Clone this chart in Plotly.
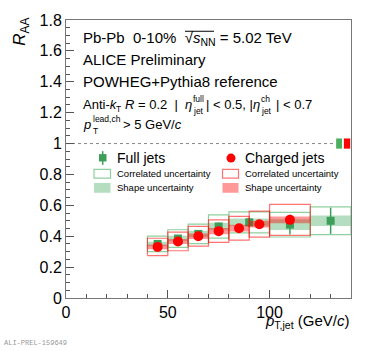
import plotly.graph_objects as go

# full jets (R = 0.2), bins in pT,jet
full_lo = [40, 50, 60, 70, 80, 100, 120]
full_hi = [50, 60, 70, 80, 100, 120, 140]
full_raa = [0.35, 0.385, 0.415, 0.463, 0.49, 0.475, 0.50]
full_stat = [0.012, 0.015, 0.018, 0.025, 0.03, 0.064, 0.085]
full_corr = [0.05, 0.057, 0.063, 0.075, 0.068, 0.08, 0.09]
full_shape = [0.015, 0.018, 0.02, 0.025, 0.025, 0.035, 0.034]

# charged jets
ch_lo = [40, 50, 60, 70, 80, 90, 100]
ch_hi = [50, 60, 70, 80, 90, 100, 120]
ch_raa = [0.331, 0.366, 0.40, 0.433, 0.452, 0.478, 0.506]
ch_stat = [0.008, 0.008, 0.01, 0.01, 0.012, 0.014, 0.025]
ch_corr = [0.056, 0.06, 0.064, 0.073, 0.077, 0.084, 0.10]
ch_shape = [0.015, 0.016, 0.018, 0.02, 0.022, 0.022, 0.022]

# normalisation uncertainties drawn at RAA = 1
norm_full = 0.033
norm_ch = 0.033

GREEN = "#3d9e5a"
GREEN_BAND = "rgba(120,195,140,0.55)"
GREEN_LINE = "#8fd09f"
RED = "#ff0000"
RED_BAND = "rgba(255,0,0,0.4)"
RED_LINE = "rgba(255,0,0,0.55)"
FONT = "Liberation Sans, Arial, sans-serif"


def boxes(lo, hi, y, h):
    xs, ys = [], []
    for a, b, c, d in zip(lo, hi, y, h):
        xs += [a, b, b, a, a, None]
        ys += [c - d, c - d, c + d, c + d, c - d, None]
    return xs, ys


def px(x, y):
    # pixel position in the 366x351 page -> paper coordinates
    return (x - 66) / 285, (298 - y) / 284


fig = go.Figure()

for lo, hi, y, stat, corr, shape, col, band, line, sym, size in [
    (full_lo, full_hi, full_raa, full_stat, full_corr, full_shape, GREEN, GREEN_BAND, GREEN_LINE, "square", 8),
    (ch_lo, ch_hi, ch_raa, ch_stat, ch_corr, ch_shape, RED, RED_BAND, RED_LINE, "circle", 10),
]:
    bx, by = boxes(lo, hi, y, corr)
    fig.add_trace(go.Scatter(x=bx, y=by, mode="lines", line=dict(color=line, width=1.2),
                             hoverinfo="skip"))
    sx, sy = boxes(lo, hi, y, shape)
    fig.add_trace(go.Scatter(x=sx, y=sy, mode="lines", fill="toself", fillcolor=band,
                             line=dict(width=0), hoverinfo="skip"))
    xc = [(a + b) / 2 for a, b in zip(lo, hi)]
    fig.add_trace(go.Scatter(x=xc, y=y, mode="markers",
                             marker=dict(symbol=sym, size=size, color=col),
                             error_y=dict(type="data", array=stat, color=col, thickness=1.5, width=0)))

# normalisation boxes
fig.add_shape(type="rect", x0=132.7, x1=135.6, y0=1 - norm_full, y1=1 + norm_full,
              fillcolor="#4caf60", line_width=0)
fig.add_shape(type="rect", x0=136.5, x1=139.6, y0=1 - norm_ch, y1=1 + norm_ch,
              fillcolor=RED, line_width=0)
fig.add_shape(type="line", x0=0, x1=132.7, y0=1, y1=1, layer="below",
              line=dict(color="#888", width=1, dash="dot"))

ann = []


def text(x, y, s, size, **kw):
    xp, yp = px(x, y)
    ann.append(dict(x=xp, y=yp, xref="paper", yref="paper", text=s, showarrow=False,
                    xanchor=kw.get("xanchor", "left"), yanchor="middle",
                    font=dict(family=kw.get("family", FONT), size=size, color=kw.get("color", "black")),
                    textangle=kw.get("angle", 0)))


def rect(x0, y0, x1, y1, **kw):
    a0, b0 = px(x0, y0)
    a1, b1 = px(x1, y1)
    fig.add_shape(type=kw.get("type", "rect"), xref="paper", yref="paper",
                  x0=a0, y0=b0, x1=a1, y1=b1,
                  fillcolor=kw.get("fill", "rgba(0,0,0,0)"),
                  line=dict(color=kw.get("line", "rgba(0,0,0,0)"), width=kw.get("lw", 1.2)))


# legend drawn by hand
rect(99, 151, 106.5, 158.5, fill=GREEN)
rect(102.7, 148, 102.7, 162, type="line", line=GREEN, lw=1.5)
rect(226.5, 150.5, 235.5, 159.5, type="circle", fill=RED)
rect(94, 166.5, 110.5, 175.5, line=GREEN_LINE)
rect(222.5, 166.5, 238.5, 175.5, line=RED_LINE)
rect(94, 180.5, 110.5, 190.5, fill=GREEN_BAND)
rect(222.5, 180.5, 238.5, 190.5, fill=RED_BAND)
text(115, 155, "Full jets", 14)
text(243, 155, "Charged jets", 14)
text(115, 171, "Correlated uncertainty", 9.5)
text(243, 171, "Correlated uncertainty", 9.5)
text(115, 185.5, "Shape uncertainty", 9.5)
text(243, 185.5, "Shape uncertainty", 9.5)

# header
text(81, 33, "Pb-Pb  0-10%  √<i>s</i><sub>NN</sub> = 5.02 TeV", 15)
rect(185, 25.5, 214, 25.5, type="line", line="black", lw=1)
text(81, 54.5, "ALICE Preliminary", 15)
text(81, 77, "POWHEG+Pythia8 reference", 15)

# jet selection line, sub/superscripts stacked by hand
text(81, 100, "Anti-<i>k</i>", 13)
text(114, 104.5, "T", 8.5)
text(123, 100, "<i>R</i> = 0.2  |", 13)
text(183, 100, "<i>η</i>", 13)
text(191, 94.5, "full", 8.5)
text(191, 107, "jet", 8.5)
text(204, 100, "| < 0.5, |", 13)
text(251, 100, "<i>η</i>", 13)
text(259, 94.5, "ch", 8.5)
text(259, 107, "jet", 8.5)
text(274, 100, "| < 0.7", 13)

text(81, 121, "<i>p</i>", 13)
text(91, 115.5, "lead,ch", 8.5)
text(91, 127.5, "T", 8.5)
text(121, 121, "> 5 GeV/<i>c</i>", 13)

text(21, 26, "<i>R</i><sub>AA</sub>", 17, angle=-90, xanchor="center")
text(351, 322.5, "<i>p</i><sub>T,jet</sub> (GeV/<i>c</i>)", 15, xanchor="right")
text(2, 344, "ALI-PREL-159649", 7, family="Liberation Mono, monospace", color="#999")

axis = dict(showgrid=False, zeroline=False, ticks="inside", mirror=True, showline=True,
            linecolor="#777", linewidth=1, tickcolor="#555", ticklen=8,
            tickfont=dict(family=FONT, size=16, color="black"))
fig.update_layout(
    width=366, height=351, showlegend=False,
    margin=dict(l=66, r=15, t=14, b=53),
    paper_bgcolor="white", plot_bgcolor="white",
    xaxis=dict(range=[0, 140], dtick=50, tick0=0,
               minor=dict(dtick=10, ticks="inside", ticklen=4, tickcolor="#555"), **axis),
    yaxis=dict(range=[0, 1.8], dtick=0.2, tick0=0,
               minor=dict(dtick=0.05, ticks="inside", ticklen=4, tickcolor="#555"), **axis),
    annotations=ann,
)
fig.write_html("out.html", config={"displayModeBar": False},
               post_script="document.body.style.margin='0';")
